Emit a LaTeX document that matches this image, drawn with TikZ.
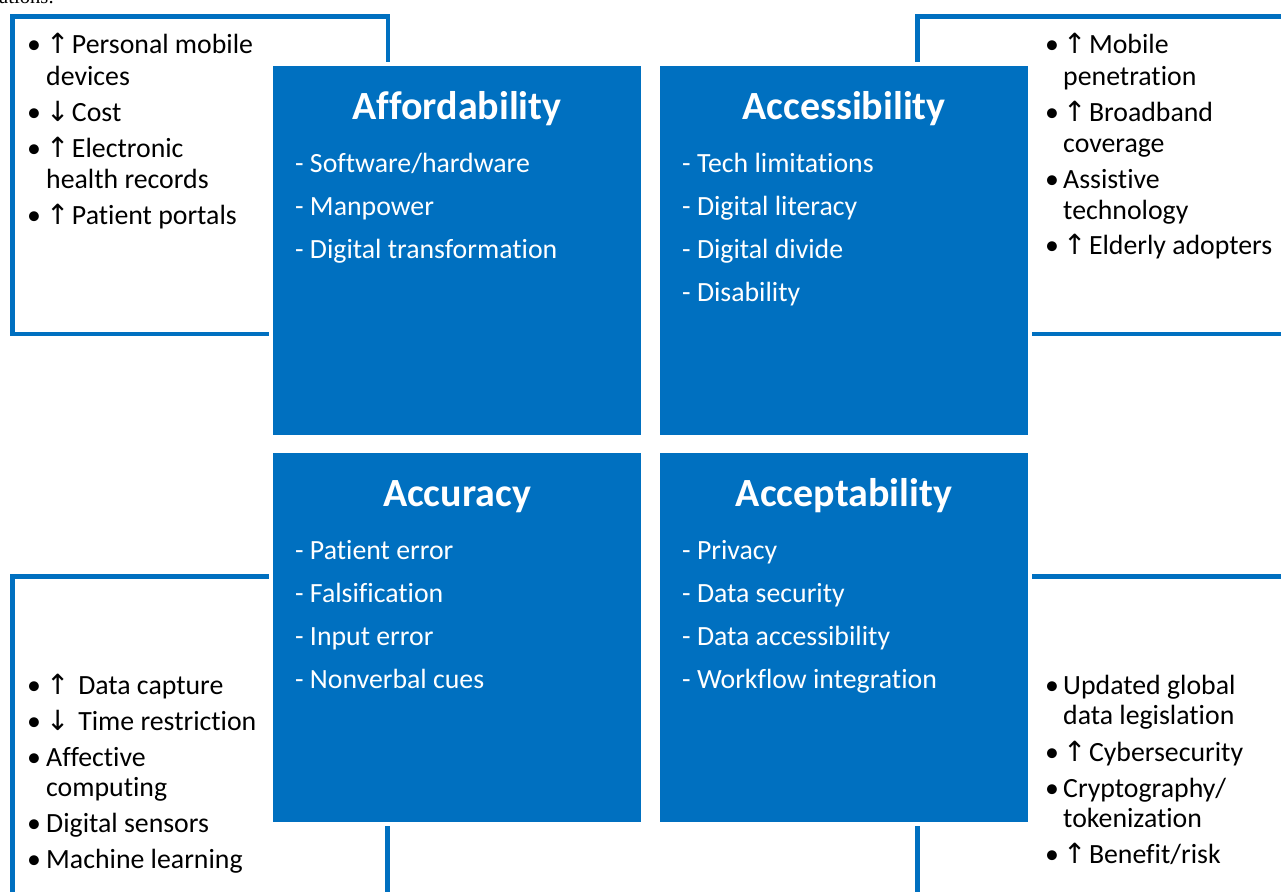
\documentclass[tikz,border=0pt]{standalone}
\usepackage{fontspec}
\setmainfont{Carlito}[Ligatures=NoCommon]
\newfontfamily\arrowfont{DejaVu Sans}
\newfontfamily\capfont{Liberation Serif}
\definecolor{myblue}{HTML}{0070C0}
\newcommand\uarr{{\arrowfont\char"2191}\hspace{2.5pt}}
\newcommand\darr{{\arrowfont\char"2193}\hspace{2.5pt}}
\tikzset{
  bbox/.style={fill=myblue, draw=white, line width=4pt, minimum width=372pt, minimum height=373pt, inner sep=0pt, outer sep=0pt, anchor=north west},
  frame/.style={draw=myblue, line width=4.5pt},
  ttl/.style={font=\fontsize{40}{45}\selectfont\bfseries, text=white, anchor=base, inner sep=0pt},
  itm/.style={font=\fontsize{27.8}{32}\selectfont, text=white, anchor=base west, inner sep=0pt},
  side/.style={font=\fontsize{27.8}{31}\selectfont, text=black, anchor=base west, inner sep=0pt},
  bul/.style={font=\fontsize{27.8}{31}\selectfont, text=black, anchor=base, inner sep=0pt}
}
\begin{document}
\begin{tikzpicture}[x=1pt, y=-1pt]
\useasboundingbox (0,0) rectangle (1281,891);
% caption fragment
\node[font=\fontsize{20.6}{24}\capfont\selectfont, anchor=base west, inner sep=0pt] (cap) at (-1,4) {ations:};
% outline frames
\draw[frame] (12.5,16.5) rectangle (388,334);
\draw[frame] (917.5,16.5) rectangle (1290,334);
\draw[frame] (12.5,576.5) rectangle (387.5,900);
\draw[frame] (917.5,576.5) rectangle (1290,900);
% blue boxes
\node[bbox] (aff) at (271,64) {};
\node[bbox] (acc) at (658,64) {};
\node[bbox] (acu) at (271,451) {};
\node[bbox] (acp) at (658,451) {};
% titles
\node[ttl] (afft) at (457,119) {Affordability};
\node[ttl] (acct) at (844,119) {Accessibility};
\node[ttl] (acut) at (457,506) {Accuracy};
\node[ttl] (acpt) at (844,506) {Acceptability};
% box items
\node[itm] (aff1) at (295,172) {- Software/hardware};
\node[itm] (aff2) at (295,215) {- Manpower};
\node[itm] (aff3) at (295,258) {- Digital transformation};
\node[itm] (acc1) at (682,172) {- Tech limitations};
\node[itm] (acc2) at (682,215) {- Digital literacy};
\node[itm] (acc3) at (682,258) {- Digital divide};
\node[itm] (acc4) at (682,301) {- Disability};
\node[itm] (acu1) at (295,559) {- Patient error};
\node[itm] (acu2) at (295,602) {- Falsification};
\node[itm] (acu3) at (295,645) {- Input error};
\node[itm] (acu4) at (295,688) {- Nonverbal cues};
\node[itm] (acp1) at (682,559) {- Privacy};
\node[itm] (acp2) at (682,602) {- Data security};
\node[itm] (acp3) at (682,645) {- Data accessibility};
\node[itm] (acp4) at (682,688) {- Workflow integration};
% top-left side list
\node[bul] (tlb1) at (34,54) {•};
\node[side] (tl1) at (46,54) {\uarr Personal mobile};
\node[side] (tl1c) at (46,85) {devices};
\node[bul] (tlb2) at (34,121) {•};
\node[side] (tl2) at (46,121) {\darr Cost};
\node[bul] (tlb3) at (34,157) {•};
\node[side] (tl3) at (46,157) {\uarr Electronic};
\node[side] (tl3c) at (46,188) {health records};
\node[bul] (tlb4) at (34,224) {•};
\node[side] (tl4) at (46,224) {\uarr Patient portals};
% top-right side list
\node[bul] (trb1) at (1052,54) {•};
\node[side] (tr1) at (1063,54) {\uarr Mobile};
\node[side] (tr1c) at (1063,85) {penetration};
\node[bul] (trb2) at (1052,121) {•};
\node[side] (tr2) at (1063,121) {\uarr Broadband};
\node[side] (tr2c) at (1063,152) {coverage};
\node[bul] (trb3) at (1052,188) {•};
\node[side] (tr3) at (1063,188) {Assistive};
\node[side] (tr3c) at (1063,219) {technology};
\node[bul] (trb4) at (1052,254) {•};
\node[side] (tr4) at (1063,254) {\uarr Elderly adopters};
% bottom-left side list
\node[bul] (blb1) at (34,694) {•};
\node[side] (bl1) at (46,694) {\uarr\ Data capture};
\node[bul] (blb2) at (34,730) {•};
\node[side] (bl2) at (46,730) {\darr\ Time restriction};
\node[bul] (blb3) at (34,766) {•};
\node[side] (bl3) at (46,766) {Affective};
\node[side] (bl3c) at (46,796) {computing};
\node[bul] (blb4) at (34,832) {•};
\node[side] (bl4) at (46,832) {Digital sensors};
\node[bul] (blb5) at (34,868) {•};
\node[side] (bl5) at (46,868) {Machine learning};
% bottom-right side list
\node[bul] (brb1) at (1052,694) {•};
\node[side] (br1) at (1063,694) {Updated global};
\node[side] (br1c) at (1063,724) {data legislation};
\node[bul] (brb2) at (1052,761) {•};
\node[side] (br2) at (1063,761) {\uarr Cybersecurity};
\node[bul] (brb3) at (1052,797) {•};
\node[side] (br3) at (1063,797) {Cryptography/};
\node[side] (br3c) at (1063,827) {tokenization};
\node[bul] (brb4) at (1052,863) {•};
\node[side] (br4) at (1063,863) {\uarr Benefit/risk};
\end{tikzpicture}
\end{document}
